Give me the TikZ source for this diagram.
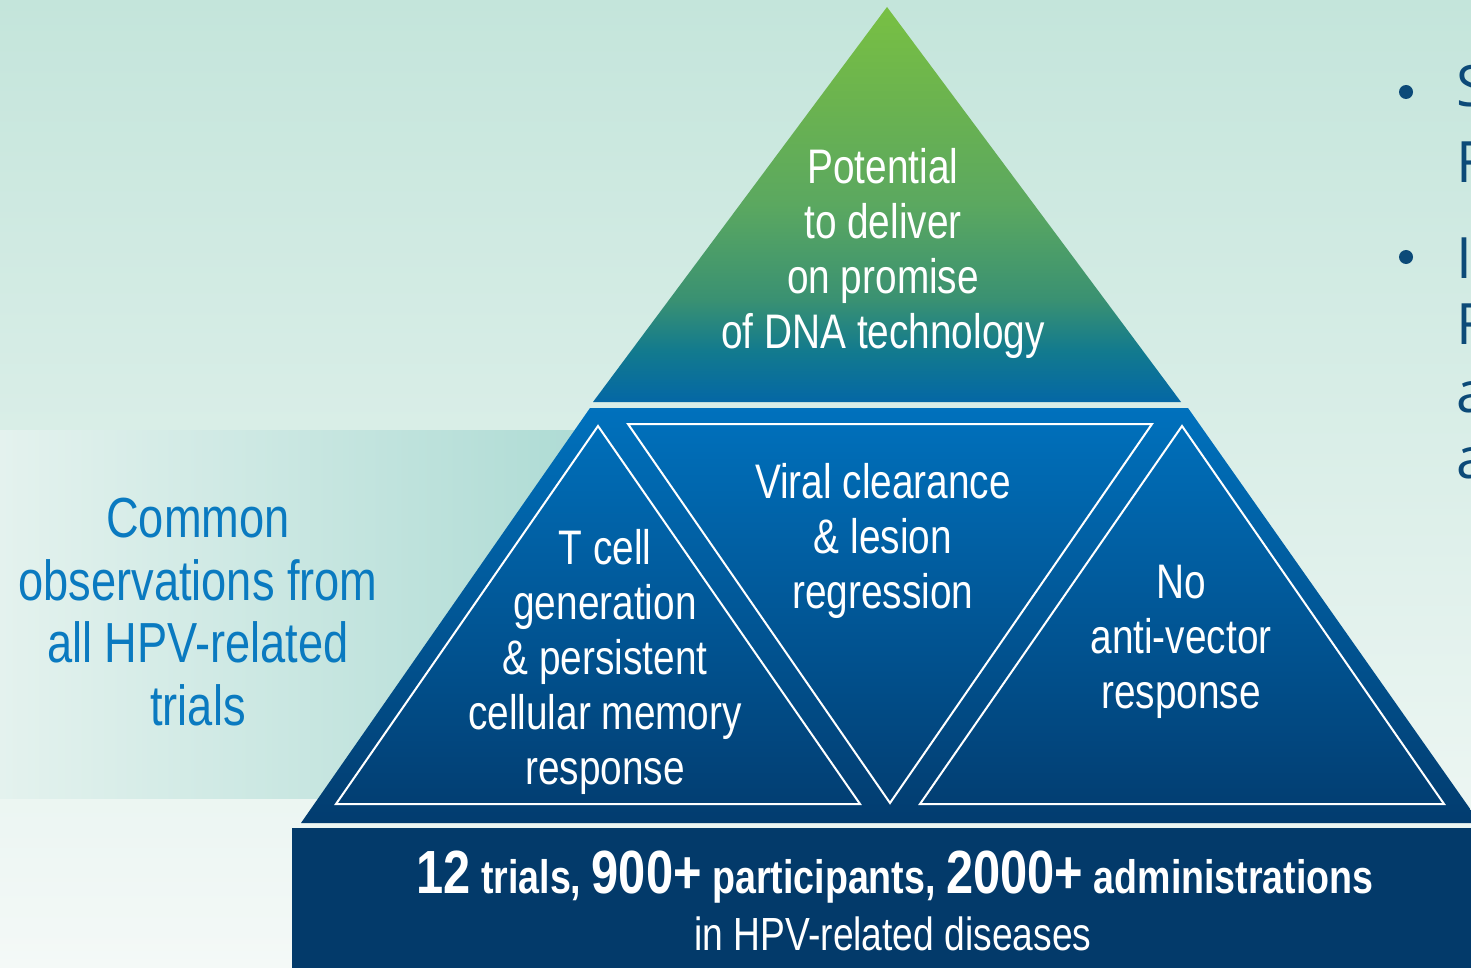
\documentclass[tikz,border=0pt]{standalone}
\usepackage{fontspec}
\newfontfamily\condfont[FakeStretch=0.8]{Liberation Sans}
\newfontfamily\bulletfont{Open Sans}
\definecolor{bgtop}{HTML}{C4E5DB}
\definecolor{bgbot}{HTML}{F4F9F7}
\definecolor{bandl}{HTML}{E4F2EE}
\definecolor{bandr}{HTML}{ABDAD3}
\definecolor{apexgreen}{HTML}{78C043}
\definecolor{apexupper}{HTML}{6BB34F}
\definecolor{apexmid}{HTML}{5BA860}
\definecolor{apexlow}{HTML}{3A9172}
\definecolor{apexteal}{HTML}{127A8E}
\definecolor{apexbase}{HTML}{0467A5}
\definecolor{midtop}{HTML}{0071BD}
\definecolor{midmid}{HTML}{0067AF}
\definecolor{midbot}{HTML}{023C6F}
\definecolor{basebar}{HTML}{033A6A}
\definecolor{labelblue}{HTML}{0A7AC0}
\definecolor{bulletnavy}{HTML}{0C4A78}
% green-to-blue fade of the apex (25bp = base, 75bp = tip)
\pgfdeclareverticalshading{apexfade}{100bp}{%
  color(0bp)=(apexbase); color(25bp)=(apexbase); color(31.5bp)=(apexteal);
  color(38bp)=(apexlow); color(50bp)=(apexmid); color(63bp)=(apexupper);
  color(75bp)=(apexgreen); color(100bp)=(apexgreen)}
\begin{document}
\begin{tikzpicture}[x=1pt,y=-1pt,
  outline/.style={draw=white, line width=2pt, line join=miter},
  wtext/.style={text=white, align=center, inner sep=0pt,
    font=\condfont\fontsize{48.5}{55}\selectfont},
  sidetext/.style={text=labelblue, align=center, inner sep=0pt,
    font=\condfont\fontsize{56.5}{62.5}\selectfont},
  bullettext/.style={text=bulletnavy, inner sep=0pt, anchor=base west,
    font=\bulletfont\fontsize{57}{57}\selectfont}]
\useasboundingbox (0,0) rectangle (1471,968);
\clip (0,0) rectangle (1471,968);

% background and side band
\shade[top color=bgtop, bottom color=bgbot] (0,0) rectangle (1471,968);
\shade[left color=bandl, right color=bandr] (0,430) rectangle (620,798);

% apex of the pyramid
\shade[shading=apexfade] (887,7) -- (1181,402) -- (593,402) -- cycle;

% middle tier
\shade[top color=midtop, middle color=midmid, bottom color=midbot]
  (590,408) -- (1188,408) -- (1480,823) -- (301,823) -- cycle;

% base bar
\fill[basebar] (292,828) rectangle (1480,975);

% outlined inner triangles
\draw[outline] (598,426) -- (860,804) -- (336,804) -- cycle;
\draw[outline] (628,424) -- (1152,424) -- (890,803) -- cycle;
\draw[outline] (1182,426) -- (1444,804) -- (920,804) -- cycle;

% texts
\node[wtext] (apex) at (883,253) {Potential\\to deliver\\on promise\\of DNA technology};
\node[wtext] (clearance) at (883,541) {Viral clearance\\\& lesion\\regression};
\node[wtext] (tcell) at (605,662) {T cell\\generation\\\& persistent\\cellular memory\\response};
\node[wtext] (novector) at (1181,642) {No\\anti-vector\\response};
\node[sidetext] (common) at (198,612) {Common\\observations from\\all HPV-related\\trials};

\node[text=white, inner sep=0pt, anchor=base] (stats) at (895,893)
  {\condfont\bfseries\fontsize{61}{61}\selectfont 12{\fontsize{47}{47}\selectfont{} trials, }900+{\fontsize{47}{47}\selectfont{} participants, }2000+{\fontsize{47}{47}\selectfont{} administrations}};
\node[text=white, inner sep=0pt, anchor=base] (diseases) at (893,950)
  {\condfont\fontsize{46.5}{46.5}\selectfont in HPV-related diseases};

% bullet list at the right edge
\fill[bulletnavy] (1406,92) circle (7);
\fill[bulletnavy] (1406,257) circle (7);
\node[bullettext] (b1a) at (1456,107) {S};
\node[bullettext] (b1b) at (1456,183) {F};
\node[bullettext] (b2a) at (1456,278) {I};
\node[bullettext] (b2b) at (1456,344) {F};
\node[bullettext] (b2c) at (1456,412) {a};
\node[bullettext] (b2d) at (1456,478) {a};
\end{tikzpicture}
\end{document}
